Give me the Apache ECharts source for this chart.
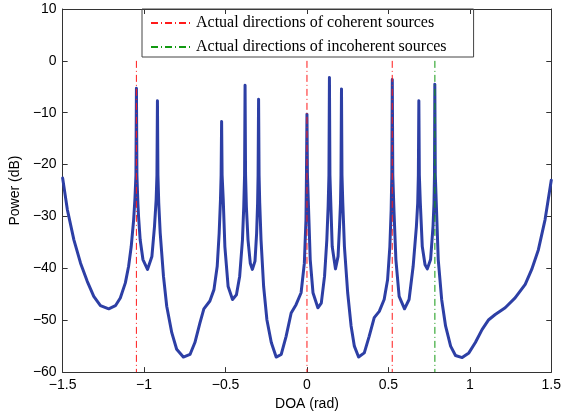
<!DOCTYPE html>
<html>
<head>
<meta charset="utf-8">
<script src="https://cdn.jsdelivr.net/npm/echarts@6/dist/echarts.min.js"></script>
<style>
  html, body { margin: 0; padding: 0; background: #fff; }
  #chart { width: 564px; height: 416px; }
</style>
</head>
<body>
<div id="chart"></div>
<script>
// spectrum (DOA in rad, power in dB)
const doa = [
  -1.5, -1.471, -1.431, -1.390, -1.349, -1.309, -1.268, -1.217, -1.176, -1.146,
  -1.115, -1.095, -1.079, -1.064, -1.056, -1.050, -1.047, -1.044, -1.038, -1.034,
  -1.024, -1.007, -0.979, -0.952, -0.936, -0.926, -0.921, -0.918, -0.915, -0.910,
  -0.901, -0.881, -0.861, -0.830, -0.800, -0.759, -0.718, -0.688, -0.657, -0.633,
  -0.596, -0.571, -0.551, -0.539, -0.531, -0.527, -0.524, -0.521, -0.514, -0.504,
  -0.484, -0.457, -0.433, -0.413, -0.396, -0.388, -0.383, -0.380, -0.377, -0.372,
  -0.362, -0.348, -0.335, -0.319, -0.309, -0.303, -0.300, -0.297, -0.294, -0.290,
  -0.282, -0.266, -0.246, -0.219, -0.189, -0.158, -0.128, -0.097, -0.067, -0.036,
  -0.016, -0.006, -0.003, 0.000, 0.003, 0.012, 0.020, 0.037, 0.067, 0.088,
  0.108, 0.122, 0.130, 0.135, 0.138, 0.141, 0.147, 0.155, 0.175, 0.191,
  0.200, 0.206, 0.209, 0.212, 0.215, 0.220, 0.230, 0.250, 0.271, 0.291,
  0.317, 0.352, 0.382, 0.413, 0.444, 0.474, 0.495, 0.509, 0.517, 0.521,
  0.524, 0.527, 0.534, 0.546, 0.566, 0.599, 0.627, 0.652, 0.672, 0.680,
  0.684, 0.687, 0.690, 0.696, 0.708, 0.725, 0.739, 0.759, 0.774, 0.780,
  0.783, 0.785, 0.788, 0.794, 0.806, 0.827, 0.851, 0.882, 0.912, 0.953,
  0.994, 1.034, 1.075, 1.116, 1.156, 1.217, 1.278, 1.340, 1.380, 1.421,
  1.462, 1.5
];
const power = [
  -22.6, -28.7, -34.5, -39.0, -42.5, -45.4, -47.2, -47.8, -47.2, -45.7,
  -42.8, -39.6, -35.8, -30.6, -26.5, -22.0, -5.3, -22.0, -27.5, -30.0,
  -34.5, -38.3, -40.2, -37.7, -31.9, -26.8, -22.0, -7.7, -22.0, -27.4,
  -33.2, -41.5, -47.3, -52.4, -55.6, -57.1, -56.6, -54.3, -50.5, -47.8,
  -46.3, -44.1, -39.6, -33.2, -26.8, -22.0, -11.7, -22.0, -26.8, -35.8,
  -43.5, -46.0, -45.1, -41.5, -34.5, -28.1, -22.0, -4.7, -22.0, -28.1,
  -34.5, -39.0, -40.2, -38.6, -33.2, -27.4, -22.0, -7.4, -22.0, -27.4,
  -34.5, -43.5, -49.9, -54.3, -57.1, -56.6, -53.1, -48.6, -47.0, -44.7,
  -39.0, -30.6, -22.0, -10.3, -22.0, -30.6, -38.3, -44.7, -47.6, -46.7,
  -41.5, -34.5, -28.1, -22.0, -3.2, -22.0, -28.1, -35.8, -40.1, -37.7,
  -31.9, -27.4, -22.0, -5.4, -22.0, -27.4, -35.8, -44.7, -51.1, -55.0,
  -57.1, -56.3, -53.1, -49.5, -48.3, -46.0, -42.2, -35.8, -28.7, -22.0,
  -3.6, -22.0, -28.7, -38.3, -45.4, -47.8, -46.0, -39.6, -31.9, -27.4,
  -22.0, -7.7, -22.0, -27.4, -35.8, -39.3, -40.1, -38.3, -31.9, -27.4,
  -22.0, -4.5, -22.0, -27.4, -38.3, -46.0, -51.1, -55.0, -56.8, -57.2,
  -56.3, -54.3, -51.8, -49.9, -48.9, -47.6, -45.7, -43.1, -40.2, -36.4,
  -30.6, -23.0
];
const coherentDirs = [-1.0472, 0, 0.5236];
const incoherentDirs = [0.7854];
const markerRange = [0, -60];
const xTicks = [-1.5, 1.5, 0.5];
const yTicks = [-60, 10, 10];

const coherentName = 'Actual directions of coherent sources';
const incoherentName = 'Actual directions of incoherent sources';
const sans = 'Liberation Sans, Arial, sans-serif';
const axisColor = '#333';

function minus(v) {
  return String(v).replace('-', '\u2212');
}

function dirLines(dirs, name, color) {
  return dirs.map(d => ({
    name: name,
    type: 'line',
    data: markerRange.map(p => [d, p]),
    symbol: 'none',
    silent: true,
    z: 5,
    lineStyle: { color: color, width: 1, type: [7, 3, 1, 3] },
    itemStyle: { color: color }
  }));
}

const chart = echarts.init(document.getElementById('chart'));
const baseX = {
  type: 'value', min: xTicks[0], max: xTicks[1], interval: xTicks[2],
  splitLine: { show: false },
  axisLine: { onZero: false, lineStyle: { color: axisColor, width: 1 } },
  axisTick: { inside: true, length: 5, lineStyle: { color: axisColor } }
};
const baseY = {
  type: 'value', min: yTicks[0], max: yTicks[1], interval: yTicks[2],
  splitLine: { show: false },
  axisLine: { onZero: false, lineStyle: { color: axisColor, width: 1 } },
  axisTick: { inside: true, length: 5, lineStyle: { color: axisColor } }
};

chart.setOption({
  backgroundColor: '#fff',
  animation: false,
  grid: { left: 62, right: 11, top: 9, bottom: 43 },
  legend: {
    orient: 'vertical',
    left: 142, top: 9,
    padding: [6, 27, 2, 8],
    itemWidth: 40, itemHeight: 12, itemGap: 8,
    borderColor: '#444', borderWidth: 1,
    itemStyle: { opacity: 0 },
    data: [coherentName, incoherentName],
    textStyle: { fontFamily: 'Liberation Serif, Times New Roman, serif', fontSize: 16, color: '#000' }
  },
  xAxis: [
    Object.assign({}, baseX, {
      position: 'bottom',
      name: 'DOA (rad)', nameLocation: 'middle', nameGap: 23,
      nameTextStyle: { fontFamily: sans, fontSize: 14, color: '#000' },
      axisLabel: { fontFamily: sans, fontSize: 14, color: '#000', margin: 6, formatter: minus }
    }),
    Object.assign({}, baseX, { position: 'top', axisLabel: { show: false } })
  ],
  yAxis: [
    Object.assign({}, baseY, {
      position: 'left',
      name: 'Power (dB)', nameLocation: 'middle', nameGap: 39,
      nameTextStyle: { fontFamily: sans, fontSize: 14, color: '#000' },
      axisLabel: { fontFamily: sans, fontSize: 14, color: '#000', margin: 6, formatter: minus }
    }),
    Object.assign({}, baseY, { position: 'right', axisLabel: { show: false } })
  ],
  series: [
    {
      name: 'spectrum',
      type: 'line',
      data: doa.map((d, i) => [d, power[i]]),
      symbol: 'none',
      z: 3,
      lineStyle: { color: '#2d3fa5', width: 3, join: 'round', cap: 'round' }
    }
  ].concat(dirLines(coherentDirs, coherentName, '#ff1a1a'))
   .concat(dirLines(incoherentDirs, incoherentName, '#119911'))
});
</script>
</body>
</html>
